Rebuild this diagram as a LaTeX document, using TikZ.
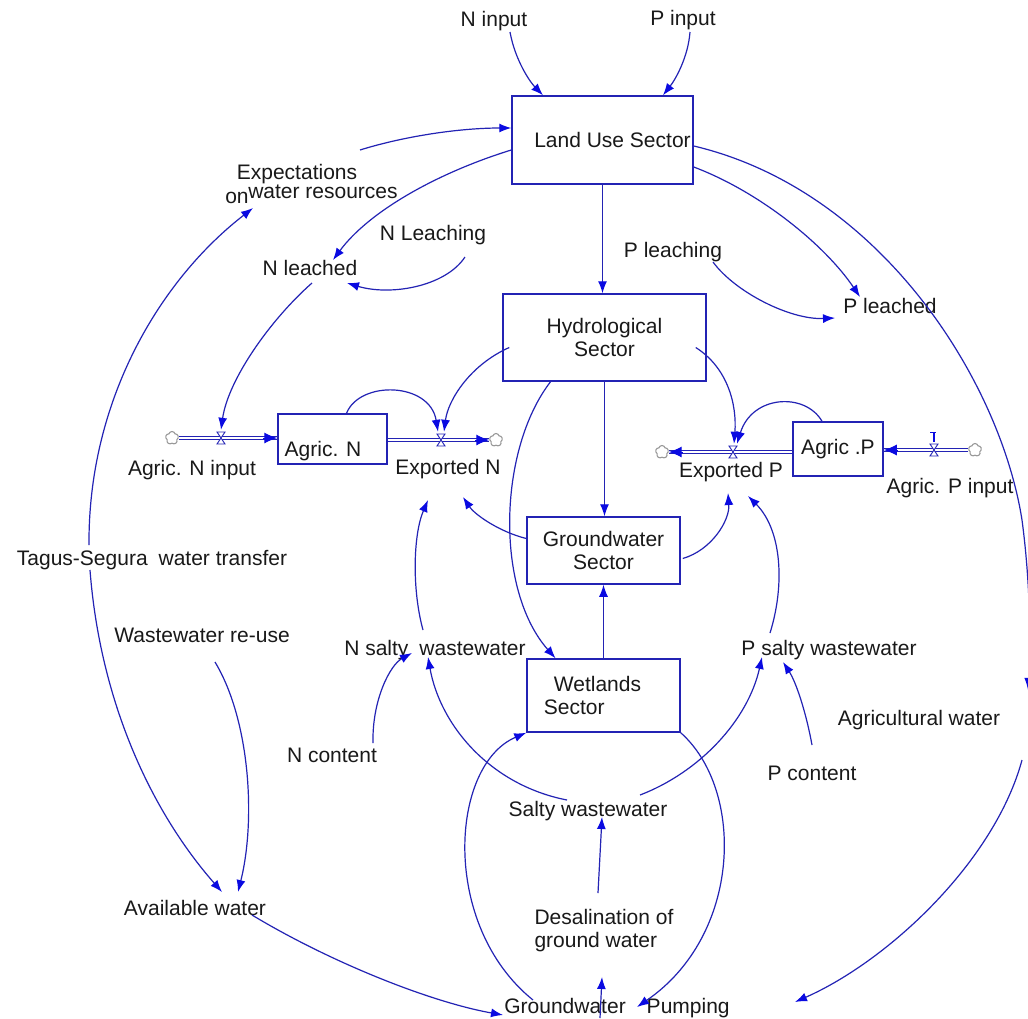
\documentclass[tikz,border=0pt]{standalone}
\usepackage{fontspec}
\setmainfont{Liberation Sans}
\usetikzlibrary{arrows.meta,calc,shapes.symbols}
\definecolor{lc}{RGB}{35,35,180}
\definecolor{ac}{RGB}{10,10,225}
\definecolor{tc}{RGB}{25,25,25}
\begin{document}
\begin{tikzpicture}[x=1pt,y=-1pt,
  every node/.style={font=\fontsize{21}{23}\selectfont, text=tc},
  box/.style={draw=lc, line width=1.5pt, inner sep=0pt},
  lbl/.style={inner sep=0pt, text depth=0pt},
  conn/.style={draw=lc, line width=1.2pt, -{Latex[length=12pt,width=9pt,color=ac,fill=ac]}},
  pipe/.style={draw=lc, double=white, double distance=2.2pt, line width=1pt},
  pipetip/.style={draw=ac, line width=1pt, -{Latex[length=13pt,width=11pt,color=ac,fill=ac]}},
  cloudy/.style={cloud, cloud puffs=5, aspect=1, draw=gray!80, line width=1.1pt, fill=white, minimum width=13pt, minimum height=13pt, inner sep=0pt},
  valve/.style={minimum width=11pt, minimum height=16pt, inner sep=0pt,
    path picture={\draw[lc, fill=white, line width=0.9pt]
      ([shift={(-4,-6)}]path picture bounding box.center) -- ([shift={(4,-6)}]path picture bounding box.center) --
      ([shift={(-4,6)}]path picture bounding box.center) -- ([shift={(4,6)}]path picture bounding box.center) -- cycle;}}
]
\useasboundingbox (0,0) rectangle (1028,1018);
\fill[white] (0,0) rectangle (1028,1018);
\clip (0,0) rectangle (1028,1018);

% sector boxes
\node[box, minimum width=181pt, minimum height=88pt] (land) at (602.5,140) {\hspace*{20pt}Land Use Sector};
\node[box, minimum width=203pt, minimum height=87pt, align=center] (hydro) at (604.5,337.5) {Hydrological\\Sector};
\node[box, minimum width=153pt, minimum height=67pt, align=center] (gw) at (603.5,550.5) {Groundwater\\Sector};
\node[box, minimum width=153pt, minimum height=73pt, align=left] (wet) at (603.5,695.5) {\hspace*{10pt}Wetlands\hspace*{22pt}\\Sector};

% stocks
\node[box, minimum width=109pt, minimum height=50pt, label={[lbl,xshift=-9.5pt,yshift=-10pt]center:Agric. N}] (agn) at (332.5,439) {};
\node[box, minimum width=90pt, minimum height=54pt] (agp) at (838,449) {Agric .P};

% clouds
\node[cloudy] (cN1) at (172,438) {};
\node[cloudy] (cN2) at (496,440) {};
\node[cloudy] (cP1) at (662,452) {};
\node[cloudy] (cP2) at (975,450) {};

% pipes
\draw[pipe] (cN1.east) -- (cN1.east -| agn.west);
\draw[pipetip] ($(cN1.east -| agn.west)+(-14,0)$) -- (cN1.east -| agn.west);
\draw[pipe] (agn.east |- cN2.west) -- (cN2.west);
\draw[pipetip] ($(cN2.west)+(-14,0)$) -- (cN2.west);
\draw[pipe] (agp.west |- cP1.east) -- (cP1.east);
\draw[pipetip] ($(cP1.east)+(14,0)$) -- (cP1.east);
\draw[pipe] (cP2.west) -- (cP2.west -| agp.east);
\draw[pipetip] ($(cP2.west -| agp.east)+(14,0)$) -- (cP2.west -| agp.east);

% valves
\node[valve] (vN1) at (221,438) {};
\node[valve] (vN2) at (441,440) {};
\node[valve] (vP1) at (733,452) {};
\node[valve] (vP2) at (934,450) {};
\draw[ac, line width=2.2pt] (vP2.north) -- ++(0,-9);
\draw[ac, line width=1.2pt] ($(vP2.north)+(-4,-9)$) -- ++(6,0);

% labels
\node[lbl] (nin) at (494,19) {N input};
\node[lbl] (pin) at (683,18) {P input};
\node[lbl] (expt) at (297,172) {Expectations};
\node[lbl] (wres) at (323,192) {water resources};
\node[lbl] (on) at (237,198) {on};
\node[lbl] (nleaching) at (433,233) {N Leaching};
\node[lbl] (nleached) at (310,268) {N leached};
\node[lbl] (pleaching) at (673,250) {P leaching};
\node[lbl] (pleached) at (890,306) {P leached};
\node[lbl] (agninput) at (192,468) {Agric. N input};
\node[lbl] (expn) at (448,467) {Exported N};
\node[lbl] (expp) at (731,470) {Exported P};
\node[lbl] (agpinput) at (950,486) {Agric. P input};
\node[lbl] (tagus) at (152,558) {Tagus-Segura\hspace*{11pt}water transfer};
\node[lbl] (wwreuse) at (202,635) {Wastewater re-use};
\node[lbl] (nsalty) at (435,648) {N salty\hspace*{11pt}wastewater};
\node[lbl] (psalty) at (829,648) {P salty wastewater};
\node[lbl] (ncontent) at (332,755) {N content};
\node[lbl] (agwater) at (919,718) {Agricultural water};
\node[lbl] (pcontent) at (812,773) {P content};
\node[lbl] (salty) at (588,809) {Salty wastewater};
\node[lbl, align=left] (desal) at (604,928) {Desalination of\\ground water};
\node[lbl] (avail) at (195,908) {Available water};
\node[lbl] (pump) at (617,1006) {Groundwater\hspace*{21pt}Pumping};

% connectors
\draw[conn] ($(nin)+(16,13)$) .. controls (515,60) and (530,82) .. ($(land.north)+(-59.5,0)$);
\draw[conn] ($(pin)+(7,14)$) .. controls (688,58) and (675,80) .. ($(land.north)+(60.5,0)$);
\draw[conn] ($(expt)+(63,-22)$) .. controls (405,136) and (460,128) .. ($(land.west)+(0,-12)$);
\draw[conn] ($(land.west)+(0,10)$) .. controls (440,172) and (370,210) .. ($(nleached)+(23,-8)$);
\draw[conn] ($(land.east)+(0,27)$) .. controls (760,192) and (825,245) .. ($(pleached)+(-30,-9)$);
\draw[conn] (land.south) -- (land.south |- hydro.north);
\draw[conn] ($(land.east)+(0,6)$) .. controls (880,190) and (1000,380) .. (1022,520) .. controls (1030,580) and (1031,640) .. ($(agwater)+(109,-28)$);
\draw[conn] ($(agwater)+(103,42)$) .. controls (995,860) and (890,960) .. ($(pump)+(178,-4)$);
\draw[conn] ($(pleaching)+(40,12)$) .. controls (735,292) and (790,320) .. ($(pleached)+(-55,12)$);
\draw[conn] ($(nleaching)+(32,24)$) .. controls (445,287) and (390,296) .. ($(nleached)+(37,15)$);
\draw[conn] ($(nleached)+(2,15)$) .. controls (270,320) and (228,380) .. (vN1.north);
\draw[conn] ($(hydro.west)+(7,10)$) .. controls (470,365) and (448,400) .. ($(vN2.north)+(3,0)$);
\draw[conn] ($(agn.north)+(14,0)$) .. controls (360,380) and (430,382) .. ($(vN2.north)+(-3,0)$);
\draw[conn] ($(hydro.east)+(-11,10)$) .. controls (728,368) and (737,405) .. ($(vP1.north)+(1,0)$);
\draw[conn] ($(agp.north)+(-16,0)$) .. controls (805,392) and (752,395) .. ($(vP1.north)+(4,0)$);
\draw[conn] (hydro.south) -- (hydro.south |- gw.north);
\draw[conn] ($(hydro.south)+(-54,0)$) .. controls (498,450) and (495,590) .. ($(wet.north)+(-48,0)$);
\draw[conn] ($(gw.west)+(0,-12)$) .. controls (500,532) and (475,515) .. ($(expn)+(15,30)$);
\draw[conn] ($(gw.east)+(2,8)$) .. controls (712,550) and (730,520) .. ($(expp)+(-3,23)$);
\draw[conn] (wet.north) -- (wet.north |- gw.south);
\draw[conn] ($(nsalty)+(-12,-18)$) .. controls (412,590) and (413,535) .. ($(expn)+(-20,33)$);
\draw[conn] ($(ncontent)+(41,-12)$) .. controls (372,700) and (390,665) .. ($(nsalty)+(-23,5)$);
\draw[conn] ($(salty)+(-21,-9)$) .. controls (490,785) and (440,725) .. ($(nsalty)+(-7,9)$);
\draw[conn] ($(salty)+(52,-14)$) .. controls (700,772) and (748,720) .. ($(psalty)+(-67,9)$);
\draw[conn] ($(pcontent)+(0,-28)$) .. controls (806,712) and (796,682) .. ($(psalty)+(-46,14)$);
\draw[conn] ($(psalty)+(-59,-15)$) .. controls (785,585) and (782,530) .. ($(expp)+(17,26)$);
\draw[conn] ($(desal)+(-6,-35)$) -- ($(salty)+(14,8)$);
\draw[conn] ($(pump)+(-17,12)$) -- ($(desal)+(-2,49)$);
\draw[conn] ($(pump)+(-84,-6)$) .. controls (440,925) and (450,765) .. (wet.south west);
\draw[conn] (wet.south east) .. controls (745,790) and (742,935) .. ($(pump)+(20,1)$);
\draw[conn] ($(avail)+(57,7)$) .. controls (330,962) and (430,1002) .. ($(pump)+(-114,9)$);
\draw[conn] ($(tagus)+(-63,-13)$) .. controls (88,400) and (160,280) .. ($(on)+(16,10)$);
\draw[conn] ($(tagus)+(-62,12)$) .. controls (100,700) and (150,810) .. ($(avail)+(27,-16)$);
\draw[conn] ($(wwreuse)+(13,27)$) .. controls (250,720) and (256,820) .. ($(avail)+(43,-16)$);
\end{tikzpicture}
\end{document}
